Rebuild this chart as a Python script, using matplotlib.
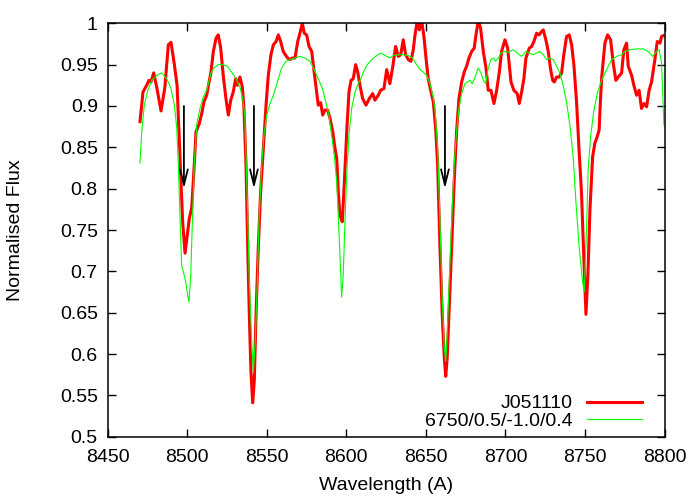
import numpy as np
import matplotlib
matplotlib.use("Agg")
import matplotlib.pyplot as plt
from matplotlib.ticker import FormatStrFormatter, MultipleLocator

obs_wl = [8470.4, 8472.3, 8474.6, 8476.0, 8477.3, 8479.0, 8481.0, 8483.6, 8486.0, 8488.2,
          8489.9, 8492.0, 8493.7, 8494.9, 8496.2, 8497.2, 8498.7, 8500.1, 8501.4, 8502.9,
          8504.5, 8505.6, 8507.7, 8509.2, 8510.6, 8512.3, 8513.8, 8515.0, 8516.5, 8518.2,
          8519.6, 8521.1, 8522.7, 8524.4, 8525.9, 8527.4, 8529.0, 8530.5, 8531.5, 8533.2,
          8534.7, 8535.7, 8537.0, 8538.1, 8539.1, 8540.1, 8541.2, 8542.2, 8543.3, 8544.7,
          8546.2, 8547.9, 8549.6, 8551.0, 8552.7, 8554.2, 8555.9, 8557.3, 8558.8, 8560.4,
          8561.7, 8563.2, 8564.6, 8566.1, 8567.8, 8569.5, 8570.9, 8572.4, 8573.6, 8575.1,
          8576.6, 8578.3, 8579.9, 8581.4, 8582.4, 8583.9, 8585.2, 8586.6, 8588.3, 8589.8,
          8591.5, 8592.9, 8594.0, 8595.0, 8596.0, 8597.5, 8598.8, 8600.3, 8601.7, 8603.0,
          8604.4, 8605.9, 8607.2, 8608.6, 8610.3, 8612.4, 8614.5, 8616.6, 8618.0, 8620.1,
          8621.6, 8623.7, 8625.4, 8627.4, 8629.1, 8631.0, 8632.7, 8634.2, 8635.8, 8637.3,
          8639.0, 8640.6, 8642.1, 8643.2, 8644.6, 8645.9, 8647.4, 8648.8, 8650.1, 8651.5,
          8653.0, 8654.7, 8656.3, 8657.4, 8658.9, 8660.3, 8661.6, 8662.5, 8663.4, 8664.5,
          8666.2, 8667.8, 8669.3, 8670.8, 8672.5, 8674.1, 8675.6, 8677.1, 8678.8, 8680.4,
          8681.5, 8682.9, 8684.4, 8686.1, 8687.8, 8689.2, 8690.9, 8692.8, 8694.5, 8696.1,
          8697.6, 8699.7, 8701.4, 8703.5, 8705.3, 8707.4, 8708.7, 8710.2, 8711.6, 8712.9,
          8715.0, 8716.5, 8717.9, 8719.6, 8721.2, 8722.7, 8723.8, 8725.4, 8726.9, 8728.4,
          8729.7, 8730.7, 8732.2, 8733.8, 8735.3, 8736.7, 8738.4, 8740.1, 8741.6, 8743.0,
          8744.7, 8746.2, 8747.8, 8749.3, 8750.6, 8751.8, 8753.1, 8754.8, 8756.2, 8757.7,
          8758.9, 8759.4, 8760.5, 8762.5, 8764.2, 8766.1, 8767.7, 8769.4, 8770.9, 8773.0,
          8774.4, 8776.1, 8777.2, 8779.3, 8780.7, 8782.4, 8784.0, 8785.5, 8787.0, 8788.7,
          8790.3, 8791.8, 8793.9, 8795.4, 8797.1, 8798.1, 8799.1]
obs_flux = [0.881, 0.917, 0.925, 0.931, 0.929, 0.940, 0.922, 0.894, 0.922, 0.974,
            0.977, 0.950, 0.925, 0.869, 0.808, 0.760, 0.722, 0.744, 0.764, 0.777,
            0.829, 0.869, 0.879, 0.891, 0.905, 0.913, 0.929, 0.941, 0.966, 0.982,
            0.986, 0.970, 0.937, 0.909, 0.889, 0.907, 0.917, 0.933, 0.925, 0.935,
            0.923, 0.898, 0.829, 0.728, 0.647, 0.579, 0.541, 0.567, 0.647, 0.728,
            0.796, 0.849, 0.901, 0.937, 0.962, 0.974, 0.978, 0.986, 0.978, 0.966,
            0.962, 0.958, 0.956, 0.958, 0.958, 0.978, 0.988, 1.000, 0.988, 0.986,
            0.972, 0.966, 0.940, 0.917, 0.901, 0.904, 0.889, 0.895, 0.895, 0.885,
            0.869, 0.849, 0.837, 0.796, 0.768, 0.760, 0.808, 0.869, 0.917, 0.931,
            0.933, 0.950, 0.941, 0.925, 0.909, 0.901, 0.909, 0.915, 0.907, 0.913,
            0.919, 0.921, 0.944, 0.927, 0.946, 0.972, 0.960, 0.962, 0.980, 0.962,
            0.956, 0.954, 0.968, 0.986, 1.003, 0.992, 1.003, 0.984, 0.958, 0.933,
            0.919, 0.905, 0.869, 0.829, 0.728, 0.647, 0.595, 0.573, 0.595, 0.647,
            0.728, 0.808, 0.869, 0.909, 0.929, 0.941, 0.948, 0.958, 0.966, 0.970,
            0.986, 1.003, 0.994, 0.966, 0.946, 0.919, 0.919, 0.903, 0.919, 0.940,
            0.966, 0.980, 0.970, 0.929, 0.919, 0.915, 0.903, 0.917, 0.933, 0.958,
            0.970, 0.972, 0.978, 0.988, 0.986, 0.990, 0.992, 0.980, 0.966, 0.944,
            0.931, 0.929, 0.935, 0.935, 0.940, 0.962, 0.984, 0.986, 0.974, 0.950,
            0.905, 0.849, 0.795, 0.714, 0.648, 0.694, 0.774, 0.839, 0.855, 0.863,
            0.871, 0.895, 0.935, 0.976, 0.986, 0.980, 0.952, 0.931, 0.935, 0.940,
            0.968, 0.976, 0.948, 0.937, 0.925, 0.913, 0.919, 0.897, 0.903, 0.899,
            0.919, 0.929, 0.956, 0.978, 0.976, 0.984, 0.985]

# synthetic model 6750/0.5/-1.0/0.4
mod_wl = [8470.4, 8471.5, 8473.1, 8475.3, 8477.8, 8481.0, 8484.0, 8487.2, 8489.9, 8492.0,
          8493.5, 8494.5, 8495.5, 8496.6, 8497.6, 8499.1, 8500.4, 8501.2, 8502.3, 8503.3,
          8504.5, 8506.0, 8508.1, 8510.2, 8512.3, 8515.0, 8516.9, 8519.6, 8522.4, 8525.3,
          8528.0, 8530.7, 8533.2, 8534.9, 8536.2, 8537.0, 8538.1, 8539.1, 8540.6, 8541.6,
          8542.8, 8544.1, 8545.3, 8546.9, 8548.3, 8550.0, 8552.1, 8554.2, 8555.9, 8557.3,
          8559.4, 8562.1, 8564.6, 8567.8, 8570.9, 8574.1, 8577.2, 8579.9, 8582.4, 8585.0,
          8587.1, 8589.1, 8590.8, 8592.5, 8594.0, 8595.0, 8596.0, 8597.1, 8598.1, 8599.2,
          8600.3, 8601.7, 8603.4, 8605.5, 8607.5, 8609.2, 8610.7, 8613.2, 8616.0, 8619.1,
          8621.6, 8623.7, 8625.4, 8627.4, 8629.5, 8632.7, 8635.8, 8639.0, 8641.7, 8644.2,
          8646.3, 8648.4, 8650.5, 8652.6, 8654.3, 8655.7, 8657.4, 8658.9, 8660.3, 8661.6,
          8662.5, 8663.4, 8664.5, 8666.2, 8667.8, 8669.3, 8670.8, 8672.5, 8674.6, 8676.3,
          8677.7, 8679.2, 8680.9, 8682.9, 8684.6, 8686.1, 8687.6, 8689.2, 8690.9, 8692.4,
          8693.8, 8695.5, 8697.2, 8699.2, 8701.8, 8704.9, 8707.4, 8710.2, 8712.9, 8715.0,
          8717.5, 8719.6, 8721.7, 8723.8, 8725.9, 8728.0, 8730.1, 8732.2, 8734.2, 8736.3,
          8738.4, 8740.5, 8742.6, 8744.3, 8746.3, 8748.3, 8749.5, 8751.0, 8752.0, 8753.5,
          8755.6, 8757.7, 8760.4, 8763.6, 8766.7, 8769.9, 8773.0, 8775.1, 8778.2, 8782.4,
          8786.6, 8789.7, 8792.5, 8795.0, 8796.6, 8798.1, 8799.6]
mod_flux = [0.831, 0.869, 0.901, 0.919, 0.931, 0.937, 0.940, 0.933, 0.921, 0.901,
            0.873, 0.829, 0.768, 0.706, 0.700, 0.687, 0.671, 0.663, 0.696, 0.760,
            0.829, 0.877, 0.897, 0.911, 0.919, 0.940, 0.946, 0.950, 0.950, 0.948,
            0.941, 0.933, 0.923, 0.909, 0.889, 0.840, 0.768, 0.687, 0.615, 0.577,
            0.615, 0.687, 0.768, 0.829, 0.865, 0.889, 0.903, 0.913, 0.923, 0.933,
            0.946, 0.954, 0.956, 0.958, 0.960, 0.958, 0.954, 0.944, 0.933, 0.921,
            0.905, 0.889, 0.865, 0.840, 0.808, 0.768, 0.720, 0.669, 0.696, 0.760,
            0.817, 0.865, 0.897, 0.917, 0.927, 0.933, 0.941, 0.950, 0.956, 0.961,
            0.964, 0.962, 0.960, 0.958, 0.961, 0.962, 0.962, 0.961, 0.958, 0.950,
            0.944, 0.941, 0.937, 0.927, 0.913, 0.897, 0.849, 0.760, 0.667, 0.607,
            0.591, 0.623, 0.679, 0.760, 0.829, 0.869, 0.897, 0.915, 0.927, 0.929,
            0.931, 0.927, 0.935, 0.946, 0.940, 0.931, 0.927, 0.946, 0.956, 0.958,
            0.954, 0.958, 0.964, 0.966, 0.965, 0.968, 0.964, 0.960, 0.966, 0.964,
            0.962, 0.964, 0.966, 0.962, 0.956, 0.958, 0.956, 0.948, 0.940, 0.925,
            0.905, 0.877, 0.837, 0.784, 0.730, 0.690, 0.675, 0.754, 0.823, 0.863,
            0.895, 0.915, 0.931, 0.944, 0.956, 0.960, 0.962, 0.966, 0.968, 0.969,
            0.969, 0.966, 0.960, 0.966, 0.968, 0.952, 0.877]

# Ca II triplet markers
line_wl = [8498, 8542, 8662]
arrow_top, arrow_tip = 0.90, 0.80

plt.rcParams["font.family"] = ["Liberation Sans", "DejaVu Sans"]
plt.rcParams["font.size"] = 14

fig = plt.figure(figsize=(7, 5), dpi=100)
ax = fig.add_axes([0.1536, 0.1266, 0.7958, 0.8268])

ax.plot(obs_wl, obs_flux, color="#ff0000", lw=2.2, label="J051110")
ax.plot(mod_wl, mod_flux, color="#00ff00", lw=0.8, label="6750/0.5/-1.0/0.4")

for wl in line_wl:
    ax.annotate("", xy=(wl, arrow_tip), xytext=(wl, arrow_top),
                arrowprops=dict(arrowstyle="->,head_length=0.8,head_width=0.2",
                                color="black", lw=1.3, shrinkA=0, shrinkB=0))

ax.set_xlim(8450, 8800)
ax.set_ylim(0.5, 1.0)
ax.xaxis.set_major_locator(MultipleLocator(50))
ax.yaxis.set_major_locator(MultipleLocator(0.05))
ax.yaxis.set_major_formatter(FormatStrFormatter("%g"))
ax.tick_params(direction="in", top=True, right=True, length=6, width=1)
ax.tick_params(axis="x", pad=9)
ax.tick_params(axis="y", pad=7)
for s in ax.spines.values():
    s.set_linewidth(1.1)

ax.set_xlabel("Wavelength (A)", labelpad=8)
ax.set_ylabel("Normalised Flux", labelpad=26)

ax.legend(loc="lower right", bbox_to_anchor=(0.9594, 0.016), frameon=False,
          markerfirst=False, handlelength=2.83, handletextpad=0.72,
          labelspacing=0.0, borderpad=0, borderaxespad=0)

fig.savefig("out.png", dpi=100)
